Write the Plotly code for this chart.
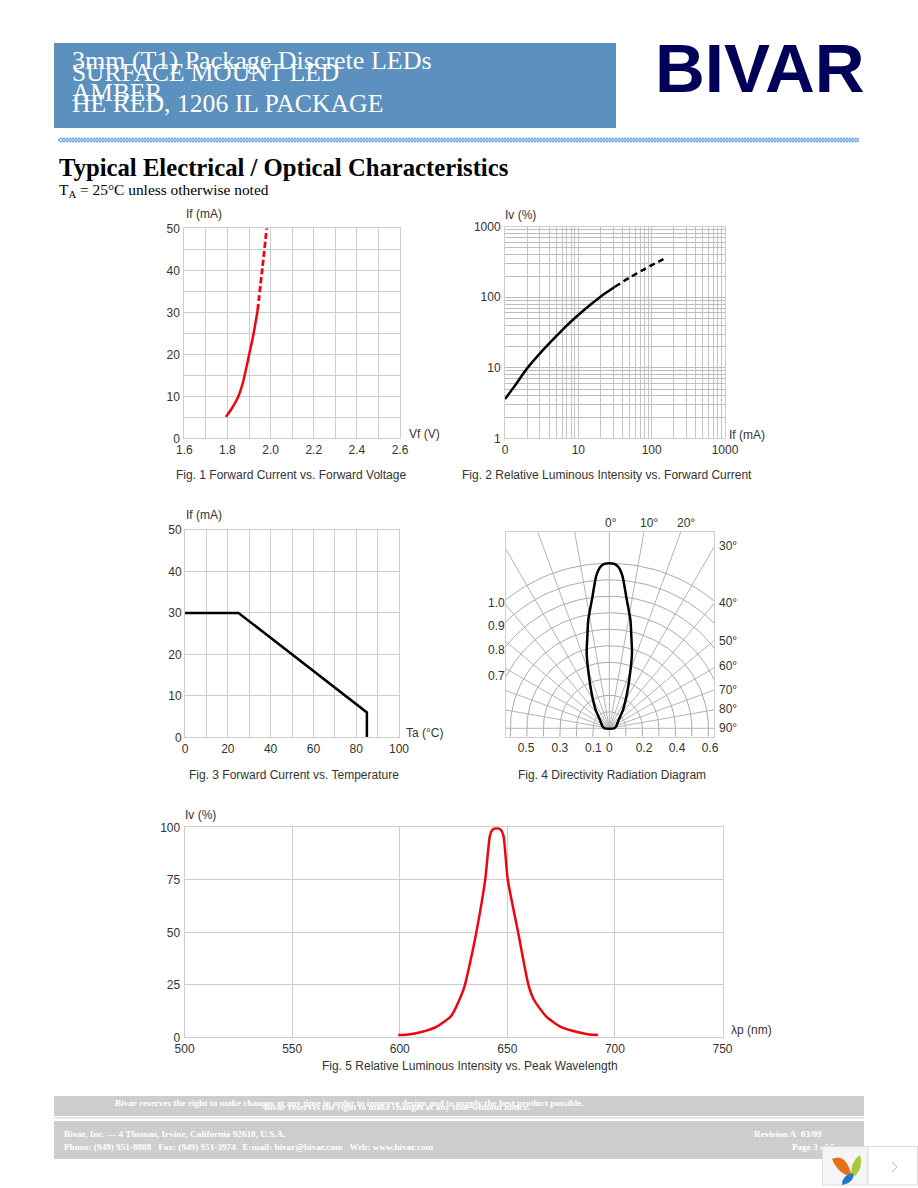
"""Typical electrical / optical characteristics page, rebuilt with plotly."""

import numpy as np
import plotly.graph_objects as go

W, H = 918, 1188
SANS = "Liberation Sans"
SERIF = "Liberation Serif"
RED = "#ee0510"
GRID = "#cfcdd0"
TICK = "#333333"

# ── Data ──────────────────────────────────────────────────────────────────────

fig1_vf = [1.793, 1.82, 1.85, 1.874, 1.90, 1.92, 1.94]
fig1_if = [5.1, 7.1, 9.9, 13.7, 19.8, 24.6, 30.5]
fig1_vf_dash = [1.94, 1.962, 1.982]
fig1_if_dash = [30.5, 40.5, 50]

fig2_if = [1, 1.3, 2, 3, 5, 7, 10, 15, 20, 31.6]
fig2_iv = [3.6, 5.2, 9.8, 16, 28, 40, 56, 80, 102, 141]
fig2_if_dash = [31.6, 50, 80, 110, 152]
fig2_iv_dash = [141, 190, 250, 300, 355]

fig3_ta = [0, 25, 85, 85]
fig3_if = [30, 30, 6, 0]

fig4_angle = [-90, -76, -48.2, -36.7, -26.8, -21.5, -16.8, -13.5, -11, -7.4, -5, -3.3, -1.74, 0,
              1.74, 3.3, 5, 7.4, 11, 13.5, 16.8, 21.5, 26.8, 36.7, 48.2, 76, 90]
fig4_radius = [0.03, 0.042, 0.076, 0.139, 0.238, 0.336, 0.475, 0.571, 0.669, 0.80, 0.923, 0.977, 0.9965, 1.0,
               0.9965, 0.977, 0.923, 0.80, 0.669, 0.571, 0.475, 0.336, 0.238, 0.139, 0.076, 0.042, 0.03]
fig4_spokes = [-90, -80, -70, -60, -50, -40, -30, -20, -10, 0, 10, 20, 30, 40, 50, 60, 70, 80, 90]
fig4_rings = [0.1, 0.2, 0.3, 0.4, 0.5, 0.6, 0.7, 0.8, 0.9, 1.0]
fig4_r_ticks = [-0.505, -0.30, -0.097, 0, 0.21, 0.41, 0.61]
fig4_r_labels = ["0.5", "0.3", "0.1", "0", "0.2", "0.4", "0.6"]

fig5_nm = [599.3, 603, 607, 610, 617, 623.8, 628.6, 630.3, 633, 635.6, 639.7, 641.9, 643, 645,
           647, 648.2, 650.2, 655, 659.8, 662.3, 668, 674.8, 682.5, 688, 692.2]
fig5_iv = [1.1, 1.2, 1.8, 2.5, 5, 10, 20, 25, 37, 50, 75, 96, 98.8, 99.6,
           98.8, 96, 75, 50, 25, 18, 10, 5, 2.5, 1.3, 1.1]

log_minor_x = [2, 3, 4, 5, 6, 7, 8, 9, 20, 30, 40, 50, 60, 70, 80, 90, 200, 300, 400, 500, 600, 700, 800, 900]
log_minor_y = log_minor_x

header_lines = [("3mm (T1) Package Discrete LEDs", 60, 26), ("SURFACE MOUNT LED", 72, 25.4),
                ("AMBER", 92, 25.4), ("HE RED, 1206 IL PACKAGE", 103, 25.7)]
captions = [("Fig. 1 Forward Current vs. Forward Voltage", 291, 475),
            ("Fig. 2 Relative Luminous Intensity vs. Forward Current", 607, 475),
            ("Fig. 3 Forward Current vs. Temperature", 294, 775),
            ("Fig. 4 Directivity Radiation Diagram", 612, 775),
            ("Fig. 5 Relative Luminous Intensity vs. Peak Wavelength", 470, 1066)]
axis_titles = [("If (mA)", 185, 214), ("Vf (V)", 408, 434),
               ("Iv (%)", 504, 215), ("If (mA)", 728, 435),
               ("If (mA)", 185, 515), ("Ta (°C)", 405, 733),
               ("Iv (%)", 184, 815), ("λp (nm)", 730, 1030)]
fig4_angle_labels = [("0°", 604, 523), ("10°", 639, 523), ("20°", 676, 523), ("30°", 718, 546),
                     ("40°", 718, 603), ("50°", 718, 641), ("60°", 718, 666), ("70°", 718, 690),
                     ("80°", 718, 709), ("90°", 718, 728)]
fig4_ring_labels = [("1.0", 487, 603), ("0.9", 487, 626), ("0.8", 487, 650), ("0.7", 487, 676)]
footer_lines = [
    ("Bivar reserves the right to make changes at any time in order to improve design and to supply the best product possible.", 114, 1103),
    ("Bivar reserves the right to make changes at any time without notice.", 263, 1107),
    ("Bivar, Inc. — 4 Thomas, Irvine, California 92618, U.S.A.", 63, 1134),
    ("Phone: (949) 951-8808\u00a0\u00a0\u00a0Fax: (949) 951-3974\u00a0\u00a0\u00a0E-mail: bivar@bivar.com\u00a0\u00a0\u00a0Web: www.bivar.com", 63, 1147),
    ("Revision A\u00a0\u00a003/09", 753, 1134),
]


# ── Helpers ───────────────────────────────────────────────────────────────────

def dom_x(left, right):
    return [left / W, right / W]


def dom_y(top, bottom):
    return [1 - bottom / H, 1 - top / H]


def label(text, x, y, size=12, color=TICK, family=SANS, anchor="left", bold=False):
    if bold:
        text = f"<b>{text}</b>"
    return dict(text=text, x=x, y=y, xref="x", yref="y", showarrow=False, xanchor=anchor,
                yanchor="middle", font=dict(family=family, size=size, color=color), borderpad=0)


def rect(x0, y0, x1, y1, color, layer="below"):
    return dict(type="rect", x0=x0, y0=y0, x1=x1, y1=y1, xref="x", yref="y", layer=layer,
                fillcolor=color, line=dict(width=0))


def path(d, color, layer="above", line=None):
    return dict(type="path", path=d, xref="x", yref="y", layer=layer, fillcolor=color,
                line=dict(width=0) if line is None else line)


def plot_axis(left, right, anchor, **kw):
    base = dict(domain=dom_x(left, right), anchor=anchor, showgrid=True, gridcolor=GRID, gridwidth=1,
                zeroline=False, showline=True, linecolor=GRID, linewidth=1, ticks="", mirror=True,
                automargin=False, tickfont=dict(family=SANS, size=12, color=TICK))
    base.update(kw)
    return base


def plot_yaxis(top, bottom, anchor, **kw):
    base = dict(domain=dom_y(top, bottom), anchor=anchor, showgrid=True, gridcolor=GRID, gridwidth=1,
                zeroline=False, showline=True, linecolor=GRID, linewidth=1, ticks="", mirror=True,
                automargin=False, tickfont=dict(family=SANS, size=12, color=TICK), ticklabelstandoff=1)
    base.update(kw)
    return base


def curve(x, y, axes, color, width=2.5, dash="solid", smooth=False):
    line = dict(color=color, width=width, dash=dash)
    if smooth:
        line.update(shape="spline", smoothing=0.6)
    return go.Scatter(x=x, y=y, xaxis=axes[0], yaxis=axes[1], mode="lines", showlegend=False,
                      hoverinfo="skip", line=line)


# ── Figure ────────────────────────────────────────────────────────────────────

fig = go.Figure()

# page layer: one axis pair spanning the page, in pixels
fig.add_trace(go.Scatter(x=[792], y=[1148], xaxis="x", yaxis="y", mode="text", text=["<b>Page 3 of 5</b>"],
                         textposition="middle right", showlegend=False, hoverinfo="skip",
                         textfont=dict(family=SERIF, size=9.2, color="white")))

# fig 1
fig.add_trace(curve(fig1_vf, fig1_if, ("x2", "y2"), RED, smooth=True))
fig.add_trace(curve(fig1_vf_dash, fig1_if_dash, ("x2", "y2"), RED, dash="6px,3px", width=2.8, smooth=True))

# fig 2
fig.add_trace(curve(fig2_if, fig2_iv, ("x3", "y3"), "black", smooth=True))
fig.add_trace(curve(fig2_if_dash, fig2_iv_dash, ("x3", "y3"), "black", dash="6px,4px", smooth=True))

# fig 3
fig.add_trace(curve(fig3_ta, fig3_if, ("x4", "y4"), "black"))

# fig 4: rings turn into short verticals below the 90° line, spokes run past the frame
FIG4_BOTTOM = -0.051
ring_t = np.radians(np.arange(-90, 90.5, 2))
for r in fig4_rings:
    xs = np.concatenate([[-r], r * np.sin(ring_t), [r]])
    ys = np.concatenate([[FIG4_BOTTOM], r * np.cos(ring_t), [FIG4_BOTTOM]])
    fig.add_trace(curve(xs, ys, ("x5", "y5"), "#a9a9a9", width=1))
for a in fig4_spokes:
    t = np.radians(a)
    fig.add_trace(curve([0, 2 * np.sin(t)], [0, 2 * np.cos(t)], ("x5", "y5"), "#b4b4b4", width=1))
fig.add_trace(curve([0, 0], [FIG4_BOTTOM, 0], ("x5", "y5"), "#b4b4b4", width=1))
lobe_t = np.radians(fig4_angle + fig4_angle[:1])
lobe_r = np.array(fig4_radius + fig4_radius[:1])
fig.add_trace(curve(lobe_r * np.sin(lobe_t), lobe_r * np.cos(lobe_t), ("x5", "y5"), "black", smooth=True))

# fig 5
fig.add_trace(curve(fig5_nm, fig5_iv, ("x6", "y6"), RED, smooth=True))

# wavy rule under the header
zig = "M58,140 " + " ".join(f"L{x},{138 if i % 2 else 142}" for i, x in enumerate(range(61, 860, 3)))
zag = "M58,140 " + " ".join(f"L{x},{142 if i % 2 else 138}" for i, x in enumerate(range(61, 860, 3)))
line_blue = dict(color="#6aa4f0", width=1.2)

shapes = [
    rect(54, 43, 616, 128, "#5b90bf"),
    path(zig, "rgba(0,0,0,0)", "below", line_blue),
    path(zag, "rgba(0,0,0,0)", "below", line_blue),
    rect(54, 1096, 864, 1116, "#cdcdcd"),
    rect(54, 1117.5, 864, 1118.5, "#cdcdcd"),
    rect(54, 1121, 864, 1159, "#cdcdcd"),
    # viewer widget in the corner
    dict(type="rect", x0=822.5, y0=1146.5, x1=868, y1=1185, xref="x", yref="y", layer="above",
         fillcolor="#f5f5f5", line=dict(color="#dddddd", width=1)),
    dict(type="rect", x0=868, y0=1146.5, x1=917.5, y1=1185, xref="x", yref="y", layer="above",
         fillcolor="white", line=dict(color="#dddddd", width=1)),
    path("M832,1159 Q846,1152 852,1177 Q838,1174 832,1159 Z", "#e8701c"),
    path("M860,1155 Q864,1170 852,1178 Q849,1163 860,1155 Z", "#a6c93a"),
    path("M853,1173 Q855,1182 842,1185 Q842,1175 853,1173 Z", "#1f78c8"),
    path("M892,1162 L897,1167 L892,1172", "rgba(0,0,0,0)", line=dict(color="#bbbbbb", width=1)),
]

annotations = [label(t, 71, y, size=s, color="white", family=SERIF) for t, y, s in header_lines]
annotations += [
    label("BIVAR", 654, 68, size=69, color="#000058", bold=True),
    label("Typical Electrical / Optical Characteristics", 58, 167, size=24.7, color="black", family=SERIF, bold=True),
    label("T<sub>A</sub> = 25°C unless otherwise noted", 58, 190, size=15.4, color="black", family=SERIF),
]
annotations += [label(t, x, y, size=12, anchor="center") for t, x, y in captions]
annotations += [label(t, x, y) for t, x, y in axis_titles]
annotations += [label(t, x, y) for t, x, y in fig4_angle_labels]
annotations += [label(t, x, y) for t, x, y in fig4_ring_labels]
annotations += [label(t, x, y, size=9.2, color="white", family=SERIF, bold=True) for t, x, y in footer_lines]

fig.update_layout(
    width=W, height=H, margin=dict(l=0, r=0, t=0, b=0), autosize=False,
    paper_bgcolor="white", plot_bgcolor="rgba(0,0,0,0)", showlegend=False,
    shapes=shapes, annotations=annotations,
    xaxis=dict(domain=[0, 1], range=[0, W], visible=False, anchor="y", fixedrange=True, automargin=False),
    yaxis=dict(domain=[0, 1], range=[H, 0], visible=False, anchor="x", fixedrange=True, automargin=False),
    xaxis2=plot_axis(184.3, 400, "y2", range=[1.6, 2.6], dtick=0.2, tick0=1.6, tickformat=".1f",
                     minor=dict(dtick=0.1, showgrid=True, gridcolor=GRID)),
    yaxis2=plot_yaxis(228.3, 438.3, "x2", range=[0, 50], dtick=10,
                      minor=dict(dtick=5, showgrid=True, gridcolor=GRID)),
    xaxis3=plot_axis(505, 725, "y3", type="log", range=[0, 3], tickvals=[1, 10, 100, 1000],
                     ticktext=["0", "10", "100", "1000"], gridcolor="#c9c2cc",
                     minor=dict(tickvals=log_minor_x, showgrid=True, gridcolor="#c9c2cc")),
    yaxis3=plot_yaxis(226.7, 438.3, "x3", type="log", range=[0, 3], tickvals=[1, 10, 100, 1000],
                      ticktext=["1", "10", "100", "1000"], gridcolor="#bdbdbd",
                      minor=dict(tickvals=log_minor_y, showgrid=True, gridcolor="#bdbdbd")),
    xaxis4=plot_axis(185, 399, "y4", range=[0, 100], dtick=20,
                     minor=dict(dtick=10, showgrid=True, gridcolor=GRID)),
    yaxis4=plot_yaxis(530, 737.3, "x4", range=[0, 50], dtick=10, ticklabelstandoff=0),
    xaxis5=plot_axis(505.7, 714.3, "y5", range=[-0.628, 0.636], showgrid=False, tickvals=fig4_r_ticks,
                     ticktext=fig4_r_labels),
    yaxis5=plot_yaxis(531.7, 736.7, "x5", range=[FIG4_BOTTOM, 1.1915], showgrid=False, showticklabels=False),
    xaxis6=plot_axis(184.6, 722.5, "y6", range=[500, 750], dtick=50),
    yaxis6=plot_yaxis(827.3, 1037.3, "x6", range=[0, 100], dtick=25),
)

fig.write_html("out.html", config={"displayModeBar": False},
               post_script="document.body.style.margin='0';document.documentElement.style.overflow='hidden';")
